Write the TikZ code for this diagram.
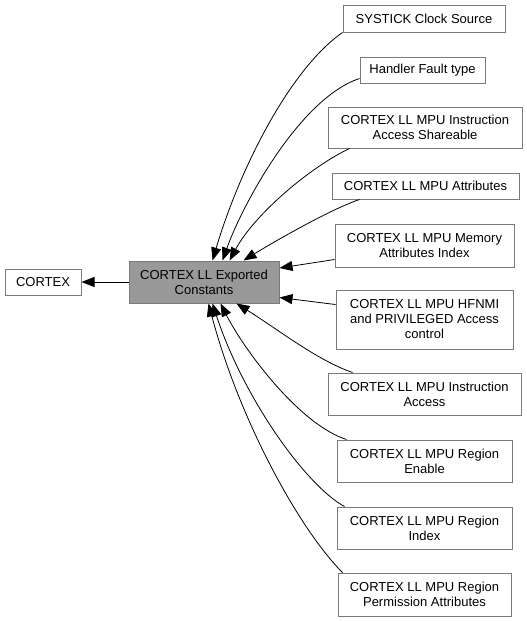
\documentclass[tikz,border=0pt]{standalone}
\usepackage{fontspec}
\setmainfont{Liberation Sans}
\usetikzlibrary{arrows.meta}
\definecolor{boxBorder}{HTML}{7A7A7A}
\definecolor{mainFill}{HTML}{999999}

\begin{document}
\begin{tikzpicture}
[x=1pt,y=-1pt,
  lineDecorate/.style={-{Triangle[length=13pt,width=10pt]},line width=0.8pt},%
  nodeDecorate/.style={shape=rectangle,draw=boxBorder,line width=1pt,inner sep=2pt,
    align=center,font=\fontsize{13}{15}\selectfont}]
\useasboundingbox (0,0) rectangle (527,621);
%% nodes or groups
\node (main) at (204,282) [nodeDecorate,fill=mainFill,minimum width=150,minimum height=42]
  {CORTEX LL Exported\\Constants};
\foreach \nodename/\x/\y/\w/\h/\txt in {
  cortex/43/282/76/26/{CORTEX},
  systick/424/18.5/162/27/{SYSTICK Clock Source},
  handler/422.5/70/125/26/{Handler Fault type},
  shareable/425/127.5/194/41/{CORTEX LL MPU Instruction\\Access Shareable},
  attributes/425.5/186/187/26/{CORTEX LL MPU Attributes},
  memindex/424.5/245.5/179/43/{CORTEX LL MPU Memory\\Attributes Index},
  hfnmi/424.5/319.5/177/59/{CORTEX LL MPU HFNMI\\and PRIVILEGED Access\\control},
  instraccess/424.5/394/193/42/{CORTEX LL MPU Instruction\\Access},
  enable/424.5/461/175/42/{CORTEX LL MPU Region\\Enable},
  index/424.5/528/175/42/{CORTEX LL MPU Region\\Index},
  perm/424.5/594.5/173/43/{CORTEX LL MPU Region\\Permission Attributes}}
{
  \node (\nodename) at (\x,\y) [nodeDecorate,minimum width=\w,minimum height=\h] {\txt};
}
%% edges or lines
\draw[lineDecorate] (main) -- (cortex);
\draw[lineDecorate] (systick.south west) .. controls +(-53,37) and +(27,-91) .. ([xshift=84]main.north west);
\draw[lineDecorate] ([yshift=5]handler.south west) .. controls +(-60,20) and +(20,-56) .. ([xshift=94]main.north west);
\draw[lineDecorate] ([xshift=22]shareable.south west) .. controls +(-40,19) and +(25,-46) .. ([xshift=101]main.north west);
\draw[lineDecorate] ([xshift=28]attributes.south west) .. controls +(-30,10) and +(26,-16) .. ([xshift=115]main.north west);
\draw[lineDecorate] ([yshift=8]memindex.south west) -- ([yshift=14]main.east);
\draw[lineDecorate] ([yshift=15]hfnmi.west) -- ([yshift=6]main.south east);
\draw[lineDecorate] ([xshift=25]instraccess.north west) .. controls +(-35,-12) and +(40,25) .. ([xshift=108]main.south west);
\draw[lineDecorate] ([xshift=10]enable.north west) .. controls +(-47,-15) and +(24,47) .. ([xshift=92]main.south west);
\draw[lineDecorate] ([xshift=8]index.north west) .. controls +(-40,-22) and +(30,92) .. ([xshift=84]main.south west);
\draw[lineDecorate] ([xshift=5]perm.north west) .. controls +(-43,-43) and +(31,117) .. ([xshift=80]main.south west);
\end{tikzpicture}
\end{document}
